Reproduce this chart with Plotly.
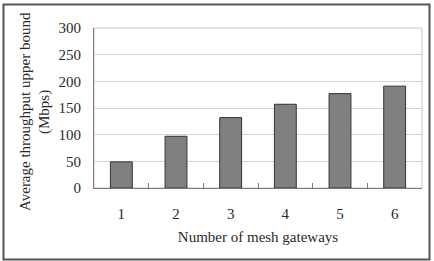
import plotly.graph_objects as go

categories = ["1", "2", "3", "4", "5", "6"]
throughput = [49, 97, 132, 157, 177, 191]
y_ticks = [0, 50, 100, 150, 200, 250, 300]
y_title_lines = ["Average throughput upper bound", "(Mbps)"]

W, H = 434, 261
L, R, T, B = 94, 12, 28, 73
pw, ph = W - L - R, H - T - B

def px_x(x):
    return (x - L) / pw

def px_y(y):
    return 1 - (y - T) / ph

font = dict(family="Liberation Serif, Times New Roman, serif", size=15, color="#2a2a2a")

fig = go.Figure()
fig.add_trace(go.Bar(
    x=categories, y=throughput,
    marker=dict(color="#808080", line=dict(color="#333333", width=1)),
))

fig.update_layout(
    width=W, height=H,
    margin=dict(l=L, r=R, t=T, b=B),
    paper_bgcolor="white", plot_bgcolor="white",
    font=font, showlegend=False, bargap=0.6,
    xaxis=dict(
        type="category", showgrid=False, showline=True, linecolor="#7a7a7a", linewidth=1,
        ticks="inside", tickson="boundaries", ticklen=5, tickcolor="#7a7a7a",
        ticklabelstandoff=12, tickfont=font,
        title=dict(text="Number of mesh gateways", font=font, standoff=10),
    ),
    yaxis=dict(
        range=[0, 300], tickvals=y_ticks, showgrid=True, gridcolor="#d4d4d4", gridwidth=1,
        showline=True, linecolor="#7a7a7a", linewidth=1, ticks="", zeroline=False,
        ticklabelstandoff=9, tickfont=font,
    ),
    shapes=[
        dict(type="rect", xref="paper", yref="paper", x0=0, x1=1, y0=0, y1=1,
             line=dict(color="#c8c8c8", width=1), layer="below"),
        dict(type="rect", xref="paper", yref="paper",
             x0=px_x(3.5), x1=px_x(429.5), y0=px_y(259.5), y1=px_y(4.5),
             line=dict(color="#555555", width=2)),
    ],
    annotations=[
        dict(text=y_title_lines[0], textangle=-90,
             xref="paper", yref="paper", x=px_x(25), y=px_y(112),
             xanchor="center", yanchor="middle", showarrow=False, font=font),
        dict(text=y_title_lines[1], textangle=-90,
             xref="paper", yref="paper", x=px_x(44), y=px_y(112),
             xanchor="center", yanchor="middle", showarrow=False, font=font),
    ],
)

fig.write_html("out.html")
